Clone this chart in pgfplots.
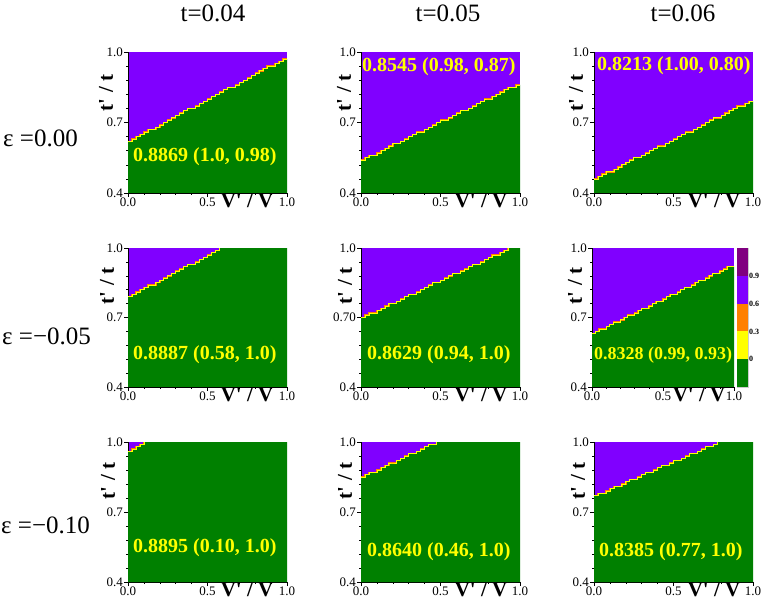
\documentclass[border=0pt]{standalone}
\usepackage{fontspec}
\setmainfont{Liberation Serif}
\usepackage{pgfplots}
\usepackage{pgfplotstable}
\pgfplotsset{compat=1.18}

\definecolor{cgreen}{RGB}{0,128,0}
\definecolor{cpurple}{RGB}{128,0,255}
\definecolor{cyellow}{RGB}{255,255,0}
\definecolor{corange}{RGB}{255,128,0}
\definecolor{cdark}{RGB}{128,0,128}

% boundary of the green region, one table per panel (row A..C = eps, column A..C = t)
\pgfplotstableread[row sep=\\]{x y\\ 0 0.62\\ 0.025 0.63\\ 0.05 0.64\\ 0.075 0.65\\ 0.1 0.66\\ 0.125 0.67\\ 0.15 0.67\\ 0.175 0.68\\ 0.2 0.69\\ 0.225 0.70\\ 0.25 0.71\\ 0.275 0.72\\ 0.3 0.73\\ 0.325 0.74\\ 0.35 0.75\\ 0.375 0.76\\ 0.4 0.76\\ 0.425 0.77\\ 0.45 0.78\\ 0.475 0.79\\ 0.5 0.80\\ 0.525 0.81\\ 0.55 0.82\\ 0.575 0.83\\ 0.6 0.84\\ 0.625 0.85\\ 0.65 0.85\\ 0.675 0.86\\ 0.7 0.87\\ 0.725 0.88\\ 0.75 0.89\\ 0.775 0.90\\ 0.8 0.91\\ 0.825 0.92\\ 0.85 0.93\\ 0.875 0.94\\ 0.9 0.94\\ 0.925 0.95\\ 0.95 0.96\\ 0.975 0.97\\ 1 0.97\\}\tAA
\pgfplotstableread[row sep=\\]{x y\\ 0 0.54\\ 0.025 0.55\\ 0.05 0.56\\ 0.075 0.56\\ 0.1 0.57\\ 0.125 0.58\\ 0.15 0.59\\ 0.175 0.60\\ 0.2 0.61\\ 0.225 0.61\\ 0.25 0.62\\ 0.275 0.63\\ 0.3 0.64\\ 0.325 0.65\\ 0.35 0.66\\ 0.375 0.66\\ 0.4 0.67\\ 0.425 0.68\\ 0.45 0.69\\ 0.475 0.70\\ 0.5 0.71\\ 0.525 0.71\\ 0.55 0.72\\ 0.575 0.73\\ 0.6 0.74\\ 0.625 0.75\\ 0.65 0.75\\ 0.675 0.76\\ 0.7 0.77\\ 0.725 0.78\\ 0.75 0.79\\ 0.775 0.80\\ 0.8 0.80\\ 0.825 0.81\\ 0.85 0.82\\ 0.875 0.83\\ 0.9 0.84\\ 0.925 0.85\\ 0.95 0.85\\ 0.975 0.86\\ 1 0.86\\}\tAB
\pgfplotstableread[row sep=\\]{x y\\ 0 0.46\\ 0.025 0.47\\ 0.05 0.48\\ 0.075 0.49\\ 0.1 0.49\\ 0.125 0.50\\ 0.15 0.51\\ 0.175 0.52\\ 0.2 0.53\\ 0.225 0.54\\ 0.25 0.55\\ 0.275 0.55\\ 0.3 0.56\\ 0.325 0.57\\ 0.35 0.58\\ 0.375 0.59\\ 0.4 0.60\\ 0.425 0.60\\ 0.45 0.61\\ 0.475 0.62\\ 0.5 0.63\\ 0.525 0.64\\ 0.55 0.65\\ 0.575 0.66\\ 0.6 0.66\\ 0.625 0.67\\ 0.65 0.68\\ 0.675 0.69\\ 0.7 0.70\\ 0.725 0.71\\ 0.75 0.72\\ 0.775 0.72\\ 0.8 0.73\\ 0.825 0.74\\ 0.85 0.75\\ 0.875 0.76\\ 0.9 0.77\\ 0.925 0.77\\ 0.95 0.78\\ 0.975 0.79\\ 1 0.79\\}\tAC
\pgfplotstableread[row sep=\\]{x y\\ 0 0.79\\ 0.025 0.80\\ 0.05 0.81\\ 0.075 0.82\\ 0.1 0.83\\ 0.125 0.84\\ 0.15 0.84\\ 0.175 0.85\\ 0.2 0.86\\ 0.225 0.87\\ 0.25 0.88\\ 0.275 0.89\\ 0.3 0.90\\ 0.325 0.91\\ 0.35 0.92\\ 0.375 0.93\\ 0.4 0.93\\ 0.425 0.94\\ 0.45 0.95\\ 0.475 0.96\\ 0.5 0.97\\ 0.525 0.98\\ 0.55 0.99\\ 0.575 1.0\\ 1 1.0\\}\tBA
\pgfplotstableread[row sep=\\]{x y\\ 0 0.70\\ 0.025 0.71\\ 0.05 0.72\\ 0.075 0.72\\ 0.1 0.73\\ 0.125 0.74\\ 0.15 0.75\\ 0.175 0.76\\ 0.2 0.76\\ 0.225 0.77\\ 0.25 0.78\\ 0.275 0.79\\ 0.3 0.80\\ 0.325 0.80\\ 0.35 0.81\\ 0.375 0.82\\ 0.4 0.83\\ 0.425 0.84\\ 0.45 0.85\\ 0.475 0.85\\ 0.5 0.86\\ 0.525 0.87\\ 0.55 0.88\\ 0.575 0.89\\ 0.6 0.89\\ 0.625 0.90\\ 0.65 0.91\\ 0.675 0.92\\ 0.7 0.93\\ 0.725 0.93\\ 0.75 0.94\\ 0.775 0.95\\ 0.8 0.96\\ 0.825 0.97\\ 0.85 0.97\\ 0.875 0.98\\ 0.9 0.99\\ 0.925 1.0\\ 1 1.0\\}\tBB
\pgfplotstableread[row sep=\\]{x y\\ 0 0.63\\ 0.025 0.64\\ 0.05 0.65\\ 0.075 0.65\\ 0.1 0.66\\ 0.125 0.67\\ 0.15 0.68\\ 0.175 0.68\\ 0.2 0.69\\ 0.225 0.70\\ 0.25 0.71\\ 0.275 0.71\\ 0.3 0.72\\ 0.325 0.73\\ 0.35 0.74\\ 0.375 0.74\\ 0.4 0.75\\ 0.425 0.76\\ 0.45 0.77\\ 0.475 0.77\\ 0.5 0.78\\ 0.525 0.79\\ 0.55 0.80\\ 0.575 0.80\\ 0.6 0.81\\ 0.625 0.82\\ 0.65 0.83\\ 0.675 0.83\\ 0.7 0.84\\ 0.725 0.85\\ 0.75 0.86\\ 0.775 0.86\\ 0.8 0.87\\ 0.825 0.88\\ 0.85 0.89\\ 0.875 0.89\\ 0.9 0.90\\ 0.925 0.91\\ 0.95 0.92\\ 0.975 0.92\\ 1 0.92\\}\tBC
\pgfplotstableread[row sep=\\]{x y\\ 0 0.96\\ 0.025 0.97\\ 0.05 0.98\\ 0.075 0.99\\ 0.1 1.0\\ 1 1.0\\}\tCA
\pgfplotstableread[row sep=\\]{x y\\ 0 0.85\\ 0.025 0.86\\ 0.05 0.87\\ 0.075 0.87\\ 0.1 0.88\\ 0.125 0.89\\ 0.15 0.90\\ 0.175 0.91\\ 0.2 0.91\\ 0.225 0.92\\ 0.25 0.93\\ 0.275 0.94\\ 0.3 0.95\\ 0.325 0.95\\ 0.35 0.96\\ 0.375 0.97\\ 0.4 0.98\\ 0.425 0.99\\ 0.45 0.99\\ 0.475 1.0\\ 1 1.0\\}\tCB
\pgfplotstableread[row sep=\\]{x y\\ 0 0.77\\ 0.025 0.78\\ 0.05 0.78\\ 0.075 0.79\\ 0.1 0.80\\ 0.125 0.81\\ 0.15 0.81\\ 0.175 0.82\\ 0.2 0.83\\ 0.225 0.84\\ 0.25 0.84\\ 0.275 0.85\\ 0.3 0.86\\ 0.325 0.87\\ 0.35 0.87\\ 0.375 0.88\\ 0.4 0.89\\ 0.425 0.90\\ 0.45 0.90\\ 0.475 0.91\\ 0.5 0.92\\ 0.525 0.92\\ 0.55 0.93\\ 0.575 0.94\\ 0.6 0.95\\ 0.625 0.95\\ 0.65 0.96\\ 0.675 0.97\\ 0.7 0.98\\ 0.725 0.98\\ 0.75 0.99\\ 0.775 1.0\\ 1 1.0\\}\tCC

\newcommand{\tickfont}{\fontsize{13}{13}\selectfont}
\newcommand{\valfont}{\bfseries\fontsize{20}{20}\selectfont}
\newcommand{\labfont}{\bfseries\fontsize{21}{21}\selectfont}
\newcommand{\bigfont}{\fontsize{25}{25}\selectfont}

\pgfplotsset{
  panel/.style={
    scale only axis, width=159pt, height=140pt, anchor=south west,
    xmin=0, xmax=1, ymin=0.4, ymax=1,
    axis background/.style={fill=cpurple},
    axis x line=bottom, axis y line=left,
    axis line style={black, line width=0.5pt, -},
    xtick={0,0.5,1}, xticklabels={0.0,0.5,1.0},
    ytick={0.4,0.7,1}, yticklabels={0.4,0.7,1.0},
    minor x tick num=4, minor y tick num=4,
    tick align=outside, major tick length=4pt, minor tick length=2pt,
    tick style={black, line width=0.5pt},
    ticklabel style={font=\tickfont, inner sep=1pt},
    /pgf/number format/assume math mode=true,
  },
  fillb/.style={const plot, fill=cgreen, draw=none},
  bord/.style={const plot, draw=corange, line width=1.4pt},
  bordy/.style={const plot, draw=cyellow, line width=0.7pt},
}

\begin{document}
\begin{tikzpicture}[x=1pt, y=1pt]
\useasboundingbox (0pt,0pt) rectangle (763pt,600pt);

% row 1: eps = 0.00
\begin{axis}[panel, at={(128pt,407pt)}, height=141pt]
\addplot[fillb] table {\tAA} \closedcycle;
\addplot[bord] table {\tAA};
\addplot[bordy] table {\tAA};
\end{axis}
\begin{axis}[panel, at={(361pt,407pt)}, height=141pt]
\addplot[fillb] table {\tAB} \closedcycle;
\addplot[bord] table {\tAB};
\addplot[bordy] table {\tAB};
\end{axis}
\begin{axis}[panel, at={(594pt,407pt)}, height=141pt]
\addplot[fillb] table {\tAC} \closedcycle;
\addplot[bord] table {\tAC};
\addplot[bordy] table {\tAC};
\end{axis}

% row 2: eps = -0.05
\begin{axis}[panel, at={(128pt,213pt)}, height=139pt]
\addplot[fillb] table {\tBA} \closedcycle;
\addplot[bord, restrict x to domain=0:0.58] table {\tBA};
\addplot[bordy, restrict x to domain=0:0.58] table {\tBA};
\end{axis}
\begin{axis}[panel, at={(361pt,213pt)}, height=139pt, yticklabels={0.4,0.70,1.0}]
\addplot[fillb] table {\tBB} \closedcycle;
\addplot[bord, restrict x to domain=0:0.93] table {\tBB};
\addplot[bordy, restrict x to domain=0:0.93] table {\tBB};
\end{axis}
\begin{axis}[panel, at={(592pt,213pt)}, height=139pt, width=142pt]
\addplot[fillb] table {\tBC} \closedcycle;
\addplot[bord] table {\tBC};
\addplot[bordy] table {\tBC};
\end{axis}

% colour bar
\begin{axis}[at={(737pt,213pt)}, anchor=south west, scale only axis,
  width=11pt, height=139pt, xmin=0, xmax=1, ymin=-0.3, ymax=1.2,
  axis line style={draw=gray!40, line width=0.4pt},
  xtick=\empty, ytick={0,0.3,0.6,0.9}, yticklabels={0,0.3,0.6,0.9},
  yticklabel pos=right, major tick length=0pt,
  yticklabel style={font=\bfseries\fontsize{8}{8}\selectfont, inner sep=1pt},
  clip=true]
\addplot[fill=cgreen, draw=none] coordinates {(0,-0.3) (1,-0.3) (1,0) (0,0)};
\addplot[fill=cyellow, draw=none] coordinates {(0,0) (1,0) (1,0.3) (0,0.3)};
\addplot[fill=corange, draw=none] coordinates {(0,0.3) (1,0.3) (1,0.6) (0,0.6)};
\addplot[fill=cpurple, draw=none] coordinates {(0,0.6) (1,0.6) (1,0.9) (0,0.9)};
\addplot[fill=cdark, draw=none] coordinates {(0,0.9) (1,0.9) (1,1.2) (0,1.2)};
\end{axis}

% row 3: eps = -0.10
\begin{axis}[panel, at={(128pt,18pt)}]
\addplot[fillb] table {\tCA} \closedcycle;
\addplot[bord, restrict x to domain=0:0.11] table {\tCA};
\addplot[bordy, restrict x to domain=0:0.11] table {\tCA};
\end{axis}
\begin{axis}[panel, at={(361pt,18pt)}]
\addplot[fillb] table {\tCB} \closedcycle;
\addplot[bord, restrict x to domain=0:0.48] table {\tCB};
\addplot[bordy, restrict x to domain=0:0.48] table {\tCB};
\end{axis}
\begin{axis}[panel, at={(594pt,18pt)}]
\addplot[fillb] table {\tCC} \closedcycle;
\addplot[bord, restrict x to domain=0:0.78] table {\tCC};
\addplot[bordy, restrict x to domain=0:0.78] table {\tCC};
\end{axis}

% column titles and row labels
\node[font=\bigfont, inner sep=0pt] at (213pt,587pt) {t=0.04};
\node[font=\bigfont, inner sep=0pt] at (448pt,587pt) {t=0.05};
\node[font=\bigfont, inner sep=0pt] at (683pt,587pt) {t=0.06};
\node[font=\bigfont, inner sep=0pt, anchor=west] at (3pt,462pt) {ε =0.00};
\node[font=\bigfont, inner sep=0pt, anchor=west] at (2pt,264pt) {ε =−0.05};
\node[font=\bigfont, inner sep=0pt, anchor=west] at (1pt,75pt) {ε =−0.10};

% axis titles
\foreach \xx/\yy in {106/507, 344/507, 576/507, 107/314, 345/314, 575/314, 108/119, 345/119, 578/119}
  \node[font=\labfont, rotate=90, inner sep=0pt] at (\xx pt,\yy pt) {t\textquotesingle\ / t};
\foreach \xx/\yy in {247/399, 481/399, 714/399, 247/205, 481/205, 699/205, 247/10, 481/10, 714/10}
  \node[font=\labfont, inner sep=0pt] at (\xx pt,\yy pt) {V\textquotesingle\ / V};

% optimum values in each panel
\begin{scope}[every node/.style={anchor=west, text=cyellow, font=\valfont, inner sep=0pt}]
\node at (133pt,443pt) {0.8869 (1.0, 0.98)};
\node at (362pt,533pt) {0.8545 (0.98, 0.87)};
\node at (597pt,534pt) {0.8213 (1.00, 0.80)};
\node at (133pt,245pt) {0.8887 (0.58, 1.0)};
\node at (367pt,245pt) {0.8629 (0.94, 1.0)};
\node[font=\bfseries\fontsize{18}{18}\selectfont] at (594pt,245pt) {0.8328 (0.99, 0.93)};
\node at (133pt,52pt) {0.8895 (0.10, 1.0)};
\node at (367pt,48pt) {0.8640 (0.46, 1.0)};
\node at (599pt,48pt) {0.8385 (0.77, 1.0)};
\end{scope}
\end{tikzpicture}
\end{document}
